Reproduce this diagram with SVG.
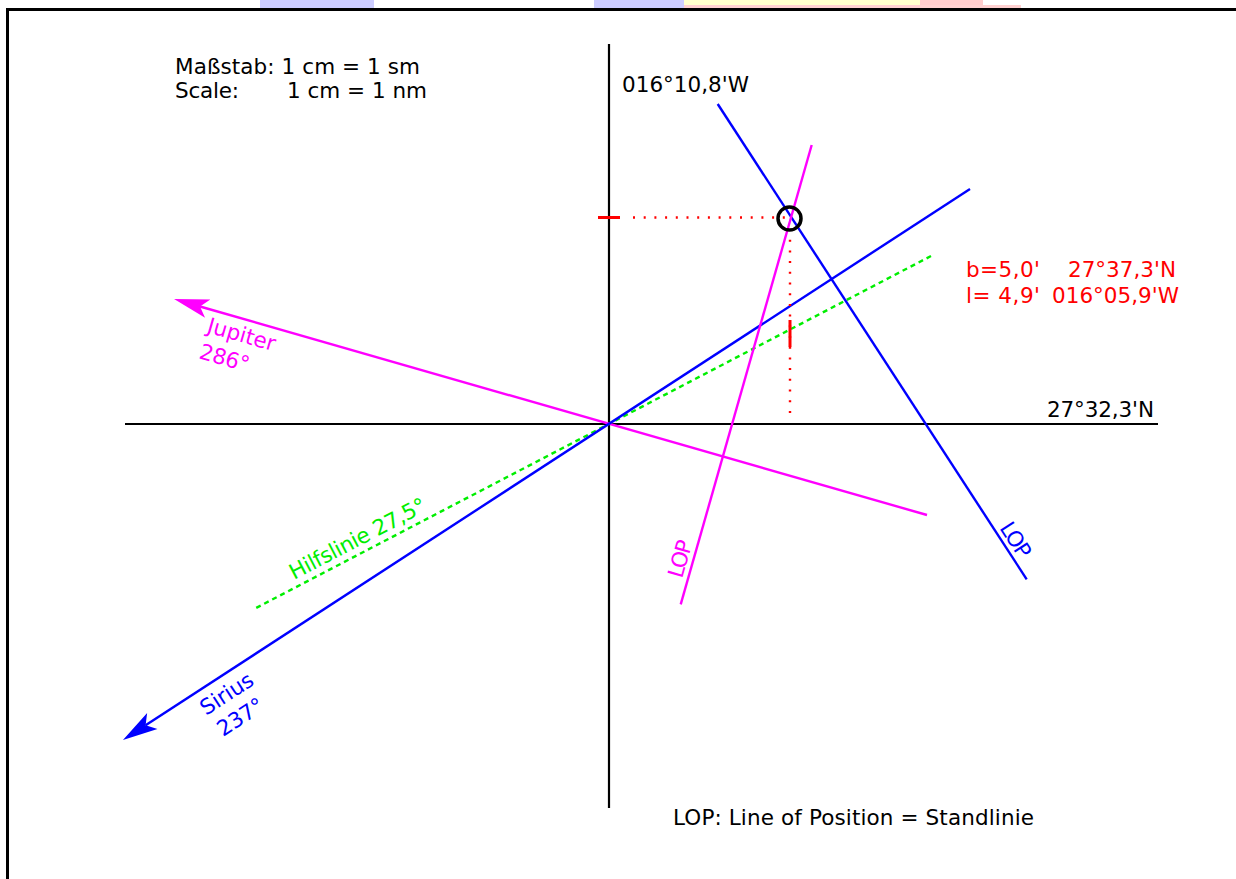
<svg xmlns="http://www.w3.org/2000/svg" width="1236" height="879" viewBox="0 0 1236 879">
<defs>
<style>
text{font-family:"DejaVu Sans","Verdana",sans-serif;font-size:21.5px}
.k{fill:#000}
.r{fill:#FF0000}
.m{fill:#FF00FF}
.b{fill:#0000FF}
.g{fill:#00EE00}
.axis{stroke:#000;stroke-width:2.2;fill:none}
.mag{stroke:#FF00FF;stroke-width:2.4;fill:none}
.blu{stroke:#0000FF;stroke-width:2.4;fill:none}
.grn{stroke:#00EE00;stroke-width:2.4;fill:none;stroke-dasharray:5 4}
.rdot{stroke:#FF0000;stroke-width:2.4;fill:none;stroke-dasharray:2 8.7}
.rtick{stroke:#FF0000;stroke-width:3;fill:none}
</style>
<marker id="arrM" markerUnits="userSpaceOnUse" orient="auto" markerWidth="40" markerHeight="24" refX="0" refY="0" overflow="visible">
<path d="M27,0 L-8,-9.5 L0,0 L-8,9.5 Z" fill="#FF00FF"/>
</marker>
<marker id="arrB" markerUnits="userSpaceOnUse" orient="auto" markerWidth="40" markerHeight="24" refX="0" refY="0" overflow="visible">
<path d="M27,0 L-8,-9.5 L0,0 L-8,9.5 Z" fill="#0000FF"/>
</marker>
</defs>
<rect x="0" y="0" width="1236" height="879" fill="#FFFFFF"/>
<g id="top-strip">
<rect x="260" y="0" width="114" height="8" fill="#CCCCFF"/>
<rect x="594" y="0" width="90" height="8" fill="#CCCCFF"/>
<rect x="684" y="0" width="236" height="5" fill="#FFFFCC"/>
<rect x="684" y="5" width="337" height="3" fill="#FFD0D0"/>
<rect x="920" y="0" width="63" height="5" fill="#FFCCCC"/>
</g>
<path id="frame" d="M7.5,879 L7.5,9.5 L1236,9.5" fill="none" stroke="#000" stroke-width="3"/>

<g id="axes">
<line class="axis" x1="609" y1="44" x2="609" y2="808"/>
<line class="axis" x1="125" y1="424" x2="1158" y2="424"/>
</g>

<g id="connectors">
<line id="hilfslinie" class="grn" x1="931" y1="256" x2="256" y2="608"/>
<line id="jupiter-line" class="mag" x1="927" y1="515" x2="200" y2="306.5" marker-end="url(#arrM)"/>
<line id="sirius-line" class="blu" x1="970" y1="189" x2="145.6" y2="725.3" marker-end="url(#arrB)"/>
<line id="lop-blue" class="blu" x1="717.7" y1="104" x2="1026.7" y2="579.3"/>
<line id="lop-magenta" class="mag" x1="811.7" y1="145" x2="680.7" y2="604.3"/>
<line class="rdot" x1="633" y1="217.5" x2="792" y2="217.5"/>
<line class="rdot" x1="790" y1="229" x2="790" y2="421"/>
<line class="rtick" x1="598" y1="217.5" x2="620" y2="217.5"/>
<line class="rtick" x1="790" y1="320" x2="790" y2="347"/>
</g>

<g id="fix">
<circle cx="789.5" cy="218.5" r="11.5" fill="none" stroke="#000" stroke-width="3.5"/>
</g>

<g id="scale-label">
<text class="k" x="175" y="74" textLength="245" lengthAdjust="spacing">Maßstab: 1 cm = 1 sm</text>
<text class="k" x="175" y="98" textLength="64" lengthAdjust="spacing">Scale:</text>
<text class="k" x="287" y="98" textLength="140" lengthAdjust="spacing">1 cm = 1 nm</text>
</g>

<g id="lon-label">
<text class="k" x="622" y="92" textLength="127" lengthAdjust="spacing">016°10,8'W</text>
</g>
<g id="lat-label">
<text class="k" x="1047" y="417" textLength="107" lengthAdjust="spacing">27°32,3'N</text>
</g>

<g id="result-label">
<text class="r" x="966" y="277" textLength="74" lengthAdjust="spacing">b=5,0'</text>
<text class="r" x="1068" y="277" textLength="108" lengthAdjust="spacing">27°37,3'N</text>
<text class="r" x="966" y="303" textLength="74" lengthAdjust="spacing">l= 4,9'</text>
<text class="r" x="1052" y="303" textLength="127" lengthAdjust="spacing">016°05,9'W</text>
</g>

<g id="jupiter-label">
<text class="m" transform="translate(206,332) rotate(16)" textLength="70" lengthAdjust="spacing">Jupiter</text>
<text class="m" transform="translate(198,358) rotate(16)" textLength="51" lengthAdjust="spacing">286°</text>
</g>

<g id="sirius-label">
<text class="b" transform="translate(206,716) rotate(-33)" textLength="59" lengthAdjust="spacing">Sirius</text>
<text class="b" transform="translate(223,737) rotate(-33)" textLength="51" lengthAdjust="spacing">237°</text>
</g>

<g id="hilfslinie-label">
<text class="g" transform="translate(294,580) rotate(-27.5)" textLength="151" lengthAdjust="spacing">Hilfslinie 27,5°</text>
</g>

<g id="lop-magenta-label">
<text class="m" transform="translate(682,579) rotate(-74)" textLength="38" lengthAdjust="spacing">LOP</text>
</g>
<g id="lop-blue-label">
<text class="b" transform="translate(999,528) rotate(57)" textLength="38" lengthAdjust="spacing">LOP</text>
</g>

<g id="legend">
<text class="k" x="673" y="825" textLength="361" lengthAdjust="spacing">LOP: Line of Position = Standlinie</text>
</g>
</svg>
